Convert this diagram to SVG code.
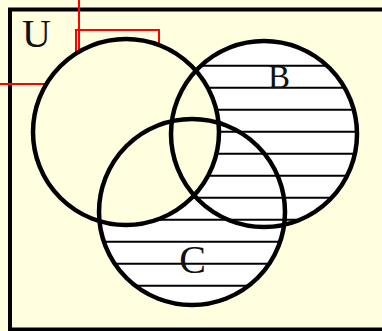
<svg xmlns="http://www.w3.org/2000/svg" width="382" height="331" viewBox="0 0 382 331">
  <style>
    .ring { fill: none; stroke: #000; stroke-width: 4.5; }
    .lbl { font-family: "Liberation Serif", "DejaVu Serif", serif; fill: #111; }
    .hatch line { stroke: #000; stroke-width: 2; }
    .red { fill: none; stroke: #ff0000; stroke-width: 2; }
  </style>
  <defs>
    <clipPath id="bc">
      <circle cx="264" cy="134" r="93"/>
      <circle cx="192" cy="212" r="93"/>
    </clipPath>
  </defs>
  <rect x="0" y="0" width="382" height="331" fill="#ffffe0"/>
  <g id="U">
    <rect x="10" y="9.5" width="400" height="320" fill="#ffffe0" stroke="#000" stroke-width="4"/>
    <text class="lbl" x="22" y="47" font-size="40">U</text>
  </g>
  <g id="hatching">
    <g clip-path="url(#bc)">
      <rect x="90" y="30" width="280" height="290" fill="#ffffff"/>
      <g class="hatch">
        <line x1="90" y1="65.7" x2="370" y2="65.7"/>
        <line x1="90" y1="87.7" x2="370" y2="87.7"/>
        <line x1="90" y1="109.7" x2="370" y2="109.7"/>
        <line x1="90" y1="131.7" x2="370" y2="131.7"/>
        <line x1="90" y1="153.7" x2="370" y2="153.7"/>
        <line x1="90" y1="175.7" x2="370" y2="175.7"/>
        <line x1="90" y1="197.7" x2="370" y2="197.7"/>
        <line x1="90" y1="219.7" x2="370" y2="219.7"/>
        <line x1="90" y1="241.7" x2="370" y2="241.7"/>
        <line x1="90" y1="263.7" x2="370" y2="263.7"/>
        <line x1="90" y1="285.7" x2="370" y2="285.7"/>
      </g>
    </g>
    <circle cx="126" cy="132" r="93" fill="#ffffe0"/>
  </g>
  <g id="connectors">
    <line class="red" x1="79" y1="0" x2="79" y2="52"/>
    <polyline class="red" points="76,54 76,30 159,30 159,45"/>
    <line class="red" x1="0" y1="84" x2="46" y2="84"/>
  </g>
  <g id="A">
    <circle class="ring" cx="126" cy="132" r="93"/>
  </g>
  <g id="B">
    <circle class="ring" cx="264" cy="134" r="93"/>
    <text class="lbl" x="279" y="88" font-size="33" text-anchor="middle">B</text>
  </g>
  <g id="C">
    <circle class="ring" cx="192" cy="212" r="93"/>
    <text class="lbl" x="192.5" y="273" font-size="40" text-anchor="middle">C</text>
  </g>
</svg>
